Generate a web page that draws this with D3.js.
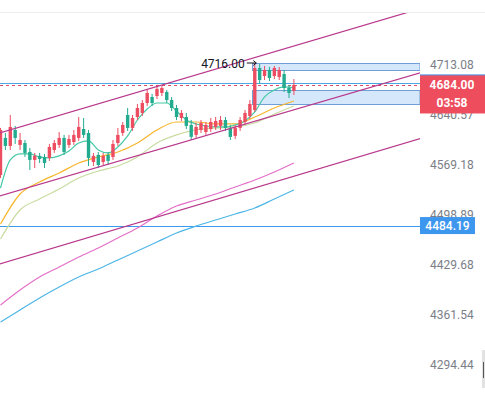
<!DOCTYPE html>
<html>
<head>
<meta charset="utf-8">
<script src="https://cdn.jsdelivr.net/npm/d3@7"></script>
<style>
body { margin: 0; background: #fff; }
svg { display: block; font-family: Roboto, "Noto Sans", sans-serif; }
</style>
</head>
<body>
<div id="chart"></div>
<script>
// candles (index 0..60)
var opens = [4555.1, 4607.7, 4596.3, 4619.1, 4597.7, 4600.5, 4587.7, 4576.4, 4582.1, 4580.6, 4579.2, 4590.5, 4597.7, 4607.7, 4597.7, 4601.9, 4607.7, 4620.5, 4614.8, 4573.5, 4583.5, 4573.5, 4583.5, 4580.6, 4600.5, 4614.8, 4640.6, 4622.0, 4637.7, 4643.5, 4657.9, 4666.6, 4668.0, 4672.4, 4673.8, 4662.2, 4650.7, 4636.3, 4637.7, 4626.3, 4612.0, 4619.1, 4616.2, 4620.5, 4623.4, 4624.9, 4633.4, 4622.0, 4610.6, 4622.0, 4630.5, 4639.1, 4647.8, 4708.7, 4697.0, 4705.8, 4697.0, 4695.6, 4699.9, 4679.6, 4675.3];
var highs = [4622.0, 4614.8, 4640.6, 4624.9, 4614.8, 4604.8, 4593.4, 4586.3, 4586.3, 4584.9, 4599.1, 4604.8, 4616.2, 4612.0, 4612.0, 4619.1, 4637.7, 4636.3, 4619.1, 4586.3, 4587.7, 4586.3, 4587.7, 4604.8, 4622.0, 4630.5, 4650.7, 4640.6, 4656.5, 4662.2, 4676.7, 4670.9, 4684.0, 4682.5, 4676.7, 4666.6, 4655.0, 4647.8, 4643.5, 4633.4, 4629.1, 4633.4, 4630.5, 4636.3, 4637.7, 4639.1, 4637.7, 4626.3, 4626.3, 4637.7, 4647.8, 4662.2, 4716.0, 4714.5, 4711.6, 4710.2, 4711.6, 4710.2, 4705.8, 4684.0, 4692.6];
var lows = [4550.8, 4590.5, 4590.5, 4599.1, 4590.5, 4580.6, 4562.1, 4564.9, 4572.0, 4564.9, 4574.9, 4586.3, 4593.4, 4583.5, 4593.4, 4597.7, 4603.4, 4607.7, 4567.8, 4567.8, 4564.9, 4569.2, 4569.2, 4576.4, 4596.3, 4610.6, 4617.7, 4617.7, 4633.4, 4639.1, 4653.5, 4653.5, 4663.7, 4668.0, 4657.9, 4646.3, 4633.4, 4632.0, 4620.5, 4604.8, 4607.7, 4614.8, 4612.0, 4616.2, 4619.1, 4619.1, 4617.7, 4604.8, 4606.2, 4617.7, 4626.3, 4634.8, 4644.9, 4685.4, 4691.2, 4689.7, 4692.6, 4691.2, 4673.8, 4665.1, 4669.5];
var closes = [4619.1, 4596.3, 4623.4, 4607.7, 4604.8, 4586.3, 4576.4, 4582.1, 4577.8, 4572.0, 4594.8, 4600.5, 4607.7, 4587.7, 4606.2, 4612.0, 4623.4, 4612.0, 4579.2, 4582.1, 4569.2, 4582.1, 4575.0, 4599.1, 4612.0, 4626.3, 4622.0, 4636.3, 4650.7, 4657.9, 4672.4, 4657.9, 4678.2, 4679.6, 4662.2, 4650.7, 4637.7, 4643.5, 4624.9, 4609.2, 4623.4, 4629.1, 4626.3, 4630.5, 4632.0, 4633.4, 4622.0, 4609.2, 4622.0, 4633.4, 4643.5, 4656.5, 4708.7, 4691.2, 4705.8, 4694.1, 4708.7, 4705.8, 4679.6, 4672.4, 4684.0];

// moving averages, sampled at candle indices
var idx2 = [0, 2, 4, 6, 8, 10, 12, 14, 16, 18, 20, 22, 24, 26, 28, 30, 32, 34, 36, 38, 40, 42, 44, 46, 48, 50, 52, 54, 56, 58, 60];
var idx4 = [0, 4, 8, 12, 16, 20, 24, 28, 32, 36, 40, 44, 48, 52, 56, 60];
var maTeal = [4536.7, 4576.4, 4584.9, 4584.9, 4580.6, 4579.2, 4582.1, 4589.1, 4600.5, 4603.4, 4590.5, 4586.3, 4594.8, 4610.6, 4633.4, 4649.2, 4657.9, 4657.9, 4646.3, 4633.4, 4627.7, 4624.9, 4623.4, 4623.4, 4626.3, 4632.0, 4644.9, 4666.6, 4676.7, 4681.1, 4679.6];
var maOrange = [4486.3, 4528.3, 4545.2, 4557.9, 4572.0, 4580.6, 4587.7, 4600.5, 4619.1, 4630.5, 4630.5, 4627.7, 4627.7, 4637.7, 4650.7, 4660.8];
var maKhaki = [4465.5, 4505.9, 4521.3, 4535.3, 4550.8, 4560.7, 4567.8, 4580.6, 4600.5, 4612.0, 4619.1, 4622.0, 4623.4, 4629.1, 4642.0, 4653.5];
var maPink = [4375.1, 4395.5, 4413.2, 4426.9, 4440.7, 4453.1, 4466.9, 4480.8, 4497.5, 4511.5, 4519.9, 4528.3, 4538.2, 4548.0, 4559.3, 4572.1];
var maBlue = [4352.1, 4368.3, 4384.6, 4399.6, 4413.2, 4424.2, 4436.6, 4448.9, 4461.3, 4473.8, 4483.5, 4491.9, 4500.3, 4508.7, 4521.3, 4533.9];

// drawings
var chanIdx = [-1, 86];
var chanUpper = [4613.0, 4796.5];
var chanMid = [4523.7, 4702.0];
var chanLower = [4429.3, 4607.0];
var zoneStart = 51.5;
var zoneTop = [4705.8, 4716.5];
var zoneBottom = [4656.5, 4676.7];
var lastPrice = 4684.00, blueLevel = 4687.0, supportLevel = 4484.19;
var highMark = 4716.00, highIdx = 52;
var countdown = "03:58";

var ticks = [4294.44, 4361.54, 4429.68, 4498.89, 4569.18, 4640.57, 4713.08];

var width = 485, height = 397, plotW = 420, plotTop = 13;

var x = d3.scaleLinear().domain([0, 60]).range([0.5, 293.9]);
var y = d3.scaleLog().domain([4294.44, 4713.08]).range([365, 65]);
function crisp(v) { return Math.round(v) + 0.5; }

var svg = d3.select("#chart").append("svg").attr("width", width).attr("height", height);

svg.append("line").attr("x1", 0).attr("x2", width).attr("y1", plotTop - 0.5).attr("y2", plotTop - 0.5)
    .attr("stroke", "#eeeeee");

svg.append("clipPath").attr("id", "clip").append("rect")
    .attr("x", 0).attr("y", plotTop).attr("width", plotW).attr("height", height - plotTop);

var plot = svg.append("g").attr("clip-path", "url(#clip)");

// zones
[zoneTop, zoneBottom].forEach(function(z) {
    plot.append("rect")
        .attr("x", crisp(x(zoneStart))).attr("width", plotW - crisp(x(zoneStart)))
        .attr("y", crisp(y(z[1]))).attr("height", Math.round(y(z[0]) - y(z[1])))
        .attr("fill", "rgba(66,150,235,0.22)").attr("stroke", "#6e9fd6").attr("stroke-width", 1);
});

// horizontal levels
plot.append("line").attr("x1", 0).attr("x2", plotW).attr("y1", crisp(y(blueLevel))).attr("y2", crisp(y(blueLevel)))
    .attr("stroke", "#4aa6e0").attr("stroke-width", 1);
plot.append("line").attr("x1", 0).attr("x2", plotW).attr("y1", crisp(y(lastPrice))).attr("y2", crisp(y(lastPrice)))
    .attr("stroke", "#e04a62").attr("stroke-width", 1).attr("stroke-dasharray", "3,3");
plot.append("line").attr("x1", 0).attr("x2", plotW).attr("y1", crisp(y(supportLevel))).attr("y2", crisp(y(supportLevel)))
    .attr("stroke", "#3a9af0").attr("stroke-width", 1);

// moving averages
var line = d3.line().x(function(d) { return x(d[0]); }).y(function(d) { return y(d[1]); }).curve(d3.curveMonotoneX);
var mas = [
    { idx: idx4, v: maBlue, c: "#4db6e6" },
    { idx: idx4, v: maPink, c: "#e46fc8" },
    { idx: idx4, v: maKhaki, c: "#c8dba0" },
    { idx: idx4, v: maOrange, c: "#f7b52c" },
    { idx: idx2, v: maTeal, c: "#46c9a6" }
];
mas.forEach(function(m) {
    plot.append("path").datum(d3.zip(m.idx, m.v)).attr("d", line)
        .attr("fill", "none").attr("stroke", m.c).attr("stroke-width", 1.2);
});

// candles
var up = "#ec4d60", down = "#22ab8f";
var candles = plot.selectAll(".candle").data(opens).enter().append("g").attr("class", "candle");
candles.append("line")
    .attr("x1", function(d, i) { return x(i); }).attr("x2", function(d, i) { return x(i); })
    .attr("y1", function(d, i) { return y(highs[i]); }).attr("y2", function(d, i) { return y(lows[i]); })
    .attr("stroke", function(d, i) { return closes[i] >= d ? up : down; }).attr("stroke-width", 1);
candles.append("rect")
    .attr("x", function(d, i) { return x(i) - 1.7; }).attr("width", 3.4)
    .attr("y", function(d, i) { return y(Math.max(d, closes[i])); })
    .attr("height", function(d, i) { return Math.max(1, y(Math.min(d, closes[i])) - y(Math.max(d, closes[i]))); })
    .attr("fill", function(d, i) { return closes[i] >= d ? up : down; });

// channel
[chanUpper, chanMid, chanLower].forEach(function(c) {
    plot.append("line")
        .attr("x1", x(chanIdx[0])).attr("y1", y(c[0]))
        .attr("x2", x(chanIdx[1])).attr("y2", y(c[1]))
        .attr("stroke", "#b8388c").attr("stroke-width", 1.2);
});

// high annotation
var hx = x(highIdx), hy = y(highMark);
svg.append("text").attr("x", hx - 10).attr("y", hy + 4.5).attr("text-anchor", "end")
    .attr("font-size", 12).attr("fill", "#131722").text(highMark.toFixed(2));
svg.append("path")
    .attr("d", "M" + (hx - 8) + "," + hy + "H" + (hx + 1.5) + "M" + (hx - 1.5) + "," + (hy - 2.5) + "L" + (hx + 1.5) + "," + hy + "L" + (hx - 1.5) + "," + (hy + 2.5))
    .attr("fill", "none").attr("stroke", "#131722").attr("stroke-width", 1);

// price axis
var axis = svg.append("g").attr("transform", "translate(" + plotW + ",0)")
    .call(d3.axisRight(y).tickValues(ticks).tickFormat(d3.format(".2f")).tickSize(0).tickPadding(10));
axis.select(".domain").remove();
axis.selectAll("text").attr("font-size", 12).attr("fill", "#7b7e88").attr("font-family", "Roboto, 'Noto Sans', sans-serif");

// hidden blue level label, then last price label
svg.append("rect").attr("x", plotW).attr("y", y(blueLevel) - 8.5).attr("width", 65).attr("height", 17).attr("fill", "#4a8fe0");
svg.append("rect").attr("x", plotW).attr("y", y(lastPrice) - 9.5).attr("width", 65).attr("height", 38).attr("fill", "#ee4d5e");
svg.append("text").attr("x", 452).attr("y", y(lastPrice) + 4.5).attr("text-anchor", "middle")
    .attr("font-size", 12).attr("font-weight", "bold").attr("fill", "#fff").text(lastPrice.toFixed(2));
svg.append("text").attr("x", 452).attr("y", y(lastPrice) + 22.5).attr("text-anchor", "middle")
    .attr("font-size", 12).attr("font-weight", "bold").attr("fill", "#fff").text(countdown);

svg.append("rect").attr("x", plotW).attr("y", y(supportLevel) - 8.5).attr("width", 55).attr("height", 17).attr("fill", "#3d97ee");
svg.append("text").attr("x", 447.5).attr("y", y(supportLevel) + 4.5).attr("text-anchor", "middle")
    .attr("font-size", 12).attr("font-weight", 500).attr("fill", "#fff").text(supportLevel.toFixed(2));

// scroll handle at the right edge
svg.append("rect").attr("x", 482).attr("y", 350).attr("width", 3).attr("height", 38).attr("fill", "#e2e2e2");
svg.append("line").attr("x1", 483.5).attr("x2", 483.5).attr("y1", 362).attr("y2", 378).attr("stroke", "#555");
</script>
</body>
</html>
